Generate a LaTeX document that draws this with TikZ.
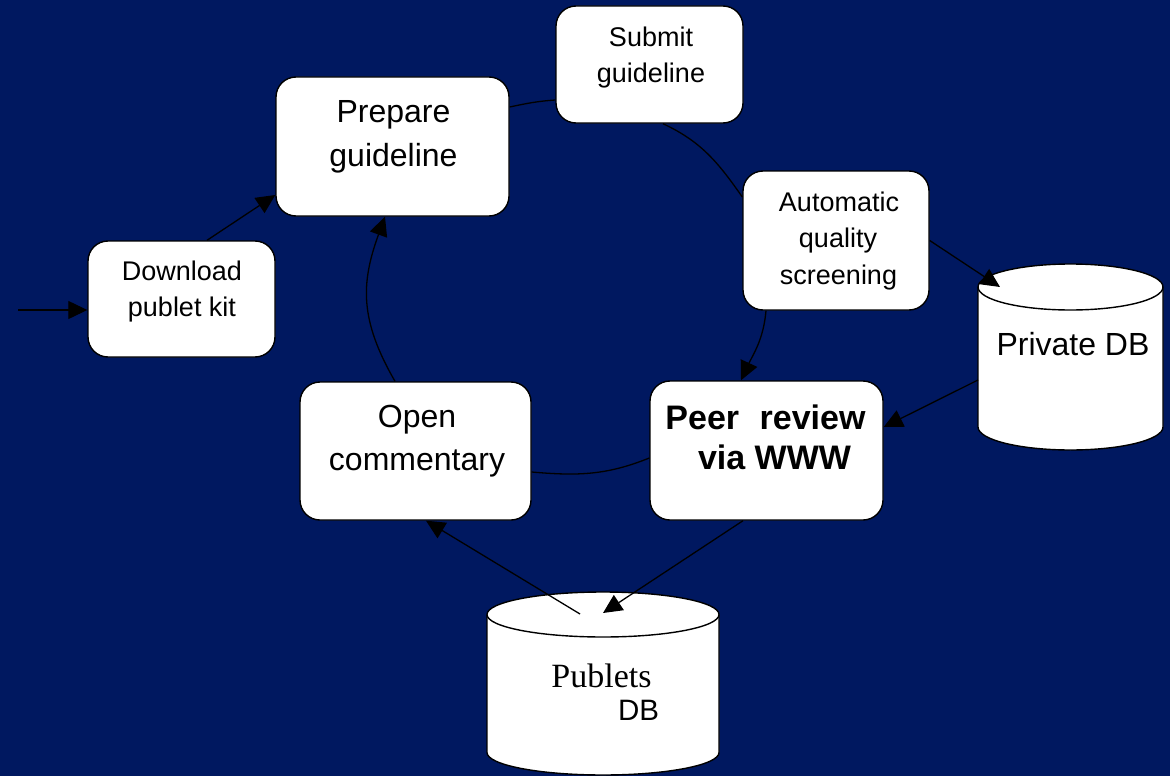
\documentclass[tikz,border=0pt]{standalone}
\usepackage{fontspec}
\setmainfont{Liberation Sans}
\newfontfamily\serifface{Liberation Serif}
\usetikzlibrary{arrows.meta}
\definecolor{navy}{RGB}{0,24,96}
\tikzset{
  stepbox/.style={draw=black, fill=white, line width=1.4pt, rounded corners=20pt, inner sep=0pt},
  lbl/.style={anchor=base, inner sep=0pt, text=black, font=\fontsize{27}{32}\selectfont},
  biglbl/.style={lbl, font=\fontsize{32}{38}\selectfont},
  boldlbl/.style={lbl, font=\bfseries\fontsize{34}{40}\selectfont},
  flow/.style={draw=black, line width=1.3pt, -{Triangle[length=19pt,width=18pt]}},
  link/.style={draw=black, line width=1.3pt},
  dbshape/.style={draw=black, fill=white, line width=1.4pt},
}
\begin{document}
\begin{tikzpicture}[x=1pt, y=1pt]
\useasboundingbox (0,0) rectangle (1170,-776);
\fill[navy] (0,0) rectangle (1170,-776);

% databases (cylinders)
\path[dbshape] (978,-287) -- (978,-427)
  arc[start angle=180, end angle=360, x radius=92.5pt, y radius=23pt]
  -- (1163,-287)
  arc[start angle=0, end angle=180, x radius=92.5pt, y radius=23pt] -- cycle;
\draw[dbshape, fill=none] (978,-287)
  arc[start angle=180, end angle=360, x radius=92.5pt, y radius=23pt];
\path[dbshape] (487,-614.5) -- (487,-752.5)
  arc[start angle=180, end angle=360, x radius=116pt, y radius=22.5pt]
  -- (719,-614.5)
  arc[start angle=0, end angle=180, x radius=116pt, y radius=22.5pt] -- cycle;
\draw[dbshape, fill=none] (487,-614.5)
  arc[start angle=180, end angle=360, x radius=116pt, y radius=22.5pt];

\coordinate (pdbIn)  at (1000,-287);
\coordinate (pdbOut) at (978,-380);
\coordinate (pubIn)  at (603,-613);
\coordinate (pubOut) at (580,-614);
\coordinate (start)  at (18,-310);

% process boxes
\node[stepbox, minimum width=187pt, minimum height=116pt] (dl)   at (181.5,-299)  {};
\node[stepbox, minimum width=233pt, minimum height=139pt] (prep) at (392.5,-146.5) {};
\node[stepbox, minimum width=187pt, minimum height=117pt] (sub)  at (649.5,-64.5)  {};
\node[stepbox, minimum width=186pt, minimum height=139pt] (auto) at (836,-240.5)   {};
\node[stepbox, minimum width=233pt, minimum height=139pt] (peer) at (766.5,-450.5) {};
\node[stepbox, minimum width=231pt, minimum height=138pt] (open) at (415.5,-451)   {};

% connectors
\draw[flow] (start) -- (start -| dl.west);
\draw[flow] ([xshift=25.5pt]dl.north) -- ([yshift=-48.5pt]prep.west);
\draw[link] ([yshift=39.5pt]prep.east) to[out=12, in=184] ([yshift=-35.5pt]sub.west);
\draw[link] ([xshift=13.5pt]sub.south) to[out=-25, in=125] ([yshift=43.5pt]auto.west);
\draw[flow] ([xshift=-70pt]auto.south) to[out=-95, in=65] ([xshift=-25.5pt]peer.north);
\draw[flow] (auto.east) -- (pdbIn);
\draw[flow] (pdbOut) -- ([yshift=23.5pt]peer.east);
\draw[link] ([yshift=-7.5pt]peer.west) to[out=-158, in=-5] ([yshift=-21pt]open.east);
\draw[flow] ([xshift=-20.5pt]open.north) to[out=120, in=-110, looseness=1.1] ([xshift=-7.5pt]prep.south);
\draw[flow] ([xshift=-23.5pt]peer.south) -- (pubIn);
\draw[flow] (pubOut) -- ([xshift=10.5pt]open.south);

% labels
\node[lbl] (dlA) at (182,-280) {Download};
\node[lbl] (dlB) at (182,-316) {publet kit};
\node[biglbl] (prepA) at (393.5,-122) {Prepare};
\node[biglbl] (prepB) at (393.5,-166) {guideline};
\node[lbl] (subA) at (651,-47) {Submit};
\node[lbl] (subB) at (651,-82) {guideline};
\node[lbl] (autoA) at (839,-211) {Automatic};
\node[lbl] (autoB) at (838,-247) {quality};
\node[lbl] (autoC) at (838.5,-284) {screening};
\node[biglbl] (pdbT) at (1073,-355) {Private DB};
\node[boldlbl] (peerA) at (765.5,-429) {Peer\hspace{11pt} review};
\node[boldlbl] (peerB) at (774.5,-469) {via WWW};
\node[biglbl] (openA) at (417,-427) {Open};
\node[biglbl] (openB) at (417,-470) {commentary};
\node[lbl, font=\serifface\fontsize{34}{40}\selectfont] (pubA) at (601.5,-687) {Publets};
\node[lbl, font=\fontsize{29.5}{34}\selectfont] (pubB) at (638.5,-720) {DB};
\end{tikzpicture}
\end{document}
